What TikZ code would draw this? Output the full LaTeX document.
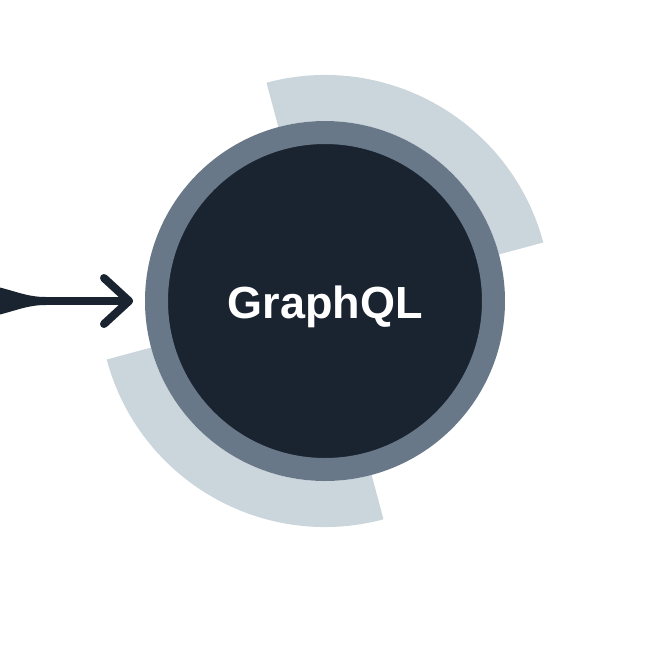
\documentclass[tikz,border=0pt]{standalone}
\usepackage{fontspec}
\setmainfont{Liberation Sans}
\usetikzlibrary{calc}
\definecolor{dark}{HTML}{1A2330}
\definecolor{ring}{HTML}{687888}
\definecolor{pale}{HTML}{CBD5DC}
\begin{document}
\begin{tikzpicture}[x=1pt,y=-1pt,
  arrowline/.style={draw=dark,line width=8pt,line cap=round,line join=round},
  palearc/.style={fill=pale},
  hub/.style={circle,fill=dark,draw=ring,line width=23pt,minimum size=337pt,inner sep=0pt,
    text=white,font=\bfseries\fontsize{45pt}{50pt}\selectfont}]
\useasboundingbox (0,0) rectangle (649,649);
\coordinate (c) at (325,301);
% pale arcs (screen-up angles: y axis is flipped, so use negative angles)
\begin{scope}[shift={(c)}]
  \fill[palearc] (-15:226) arc[start angle=-15,end angle=-105,radius=226]
    -- (-105:180) arc[start angle=-105,end angle=-15,radius=180] -- cycle;
  \fill[palearc] (-195:226) arc[start angle=-195,end angle=-285,radius=226]
    -- (-285:180) arc[start angle=-285,end angle=-195,radius=180] -- cycle;
\end{scope}
\node[hub] (gql) at (c) {\raisebox{-17.5pt}[0pt][0pt]{GraphQL}};
% arrow
\coordinate (tail) at (40,301);
\coordinate (tip) at ($(gql.west)+(-16,0)$);
\fill[dark] (-2,287) .. controls (18,292) and (28,297) .. (46,297)
  -- (46,305) .. controls (28,305) and (18,310) .. (-2,315) -- cycle;
\draw[arrowline] (tail) -- (tip);
\draw[arrowline] ($(tip)+(-25,-23)$) -- (tip) -- ($(tip)+(-25,23)$);
\end{tikzpicture}
\end{document}
